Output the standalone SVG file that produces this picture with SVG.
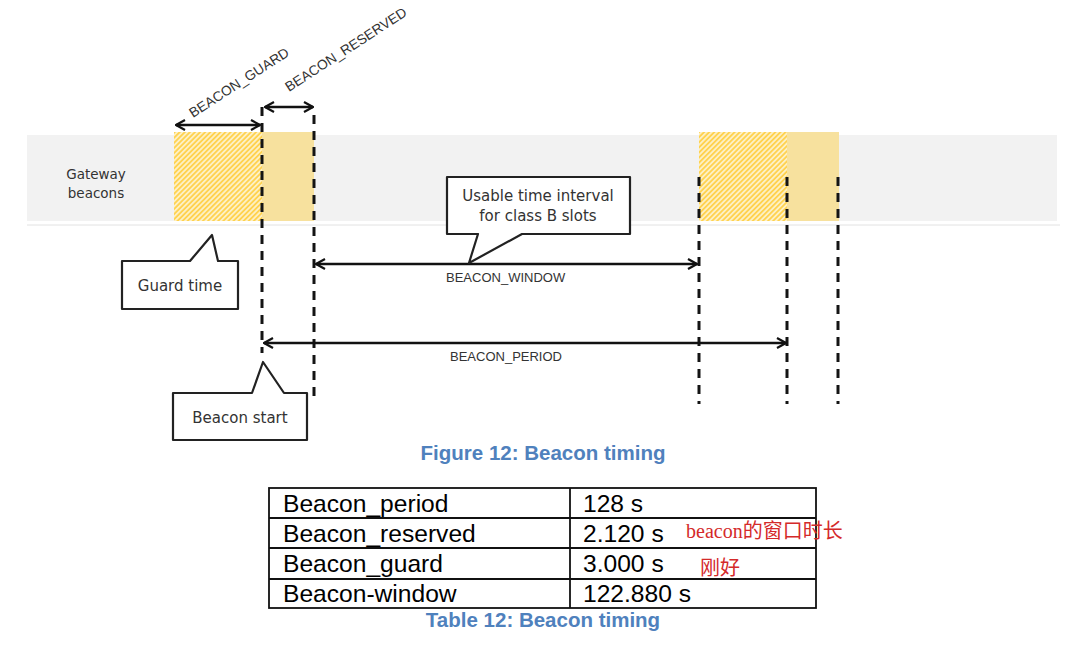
<svg xmlns="http://www.w3.org/2000/svg" width="1084" height="652" viewBox="0 0 1084 652">
<style>
.lbl{font-family:"Liberation Sans",Arial,sans-serif;font-size:13px;fill:#333}
.rot{font-size:13.8px}
.gw{font-family:"DejaVu Sans",Verdana,sans-serif;font-size:13.5px;fill:#333;text-anchor:middle}
.call{font-family:"DejaVu Sans",Verdana,sans-serif;font-size:15px;fill:#333;text-anchor:middle}
.box{fill:#fff;stroke:#222;stroke-width:2.2;stroke-linejoin:round}
.dash{stroke:#141414;stroke-width:3;stroke-dasharray:9 7;fill:none}
.arr{stroke:#111;stroke-width:2.5;fill:none;marker-start:url(#ah);marker-end:url(#ah)}
.cap{font-family:"Liberation Sans",Arial,sans-serif;font-weight:bold;font-size:20.5px;fill:#4F81BD;text-anchor:middle}
.tt{font-family:"Liberation Sans",Arial,sans-serif;font-size:24.6px;fill:#000}
.red{font-family:"Liberation Serif","Noto Sans CJK SC",serif;font-size:20px;fill:#d42a2a}
.tbl{fill:none;stroke:#111;stroke-width:1.8}
</style>
<defs>
<marker id="ah" viewBox="0 0 12 12" refX="11" refY="6" markerWidth="12" markerHeight="12" markerUnits="userSpaceOnUse" orient="auto-start-reverse">
<path d="M2,1 L11,6 L2,11" fill="none" stroke="#111" stroke-width="2.2"/>
</marker>
<pattern id="hatch" patternUnits="userSpaceOnUse" width="3.6" height="3.6" patternTransform="rotate(45)">
<rect width="3.6" height="3.6" fill="#FDF0C4"/>
<rect width="1.8" height="3.6" fill="#FFD24F"/>
</pattern>
</defs>

<g id="band">
<rect x="27" y="135" width="1030" height="86" fill="#F2F2F2"/>
<line x1="27" y1="225" x2="1060" y2="225" stroke="#E2E2E2" stroke-width="1"/>
<text class="gw" x="96" y="179">Gateway</text>
<text class="gw" x="96" y="198">beacons</text>
</g>

<g id="slots">
<rect x="174" y="132" width="88" height="89" fill="url(#hatch)"/>
<rect x="262" y="132" width="52" height="89" fill="#F7E19E"/>
<rect x="699" y="132" width="88" height="89" fill="url(#hatch)"/>
<rect x="787" y="132" width="52" height="89" fill="#F7E19E"/>
</g>

<g id="connectors">
<line class="dash" x1="262" y1="107" x2="262" y2="353"/>
<line class="dash" x1="314" y1="115" x2="314" y2="400"/>
<line class="dash" x1="699" y1="177" x2="699" y2="404"/>
<line class="dash" x1="787" y1="177" x2="787" y2="404"/>
<line class="dash" x1="838" y1="177" x2="838" y2="404"/>
<line class="arr" x1="176" y1="125" x2="260" y2="125"/>
<line class="arr" x1="265" y1="107" x2="313" y2="107"/>
<line class="arr" x1="316" y1="264" x2="697" y2="264"/>
<line class="arr" x1="264" y1="343" x2="786" y2="343"/>
</g>

<g id="labels">
<text class="lbl rot" transform="translate(193,118) rotate(-33)">BEACON_GUARD</text>
<text class="lbl rot" transform="translate(289,92) rotate(-33)">BEACON_RESERVED</text>
<text class="lbl" x="446" y="282">BEACON_WINDOW</text>
<text class="lbl" x="450" y="361">BEACON_PERIOD</text>
</g>

<g id="usable">
<path class="box" d="M447,177 H630 V234 H522 L469,263 L478,234 H447 Z"/>
<text class="call" x="538" y="201">Usable time interval</text>
<text class="call" x="538" y="221">for class B slots</text>
</g>

<g id="guard">
<path class="box" d="M122,261 H190 L212,235 L218,261 H238 V309 H122 Z"/>
<text class="call" x="180" y="291">Guard time</text>
</g>

<g id="start">
<path class="box" d="M173,393 H252 L263,362 L284,393 H307 V440 H173 Z"/>
<text class="call" x="240" y="423">Beacon start</text>
</g>

<text class="cap" x="543" y="460">Figure 12: Beacon timing</text>

<g id="table">
<rect class="tbl" x="269" y="488" width="547" height="120"/>
<line class="tbl" x1="269" y1="518" x2="816" y2="518"/>
<line class="tbl" x1="269" y1="548" x2="816" y2="548"/>
<line class="tbl" x1="269" y1="579" x2="816" y2="579"/>
<line class="tbl" x1="570" y1="488" x2="570" y2="608"/>
<text class="tt" x="283" y="512">Beacon_period</text>
<text class="tt" x="283" y="542">Beacon_reserved</text>
<text class="tt" x="283" y="572">Beacon_guard</text>
<text class="tt" x="283" y="602">Beacon-window</text>
<text class="tt" x="583" y="512">128 s</text>
<text class="tt" x="583" y="542">2.120 s</text>
<text class="tt" x="583" y="572">3.000 s</text>
<text class="tt" x="583" y="602">122.880 s</text>
<text class="red" x="686" y="538">beacon的窗口时长</text>
<text class="red" x="700" y="575">刚好</text>
</g>

<text class="cap" x="543" y="627">Table 12: Beacon timing</text>
</svg>
